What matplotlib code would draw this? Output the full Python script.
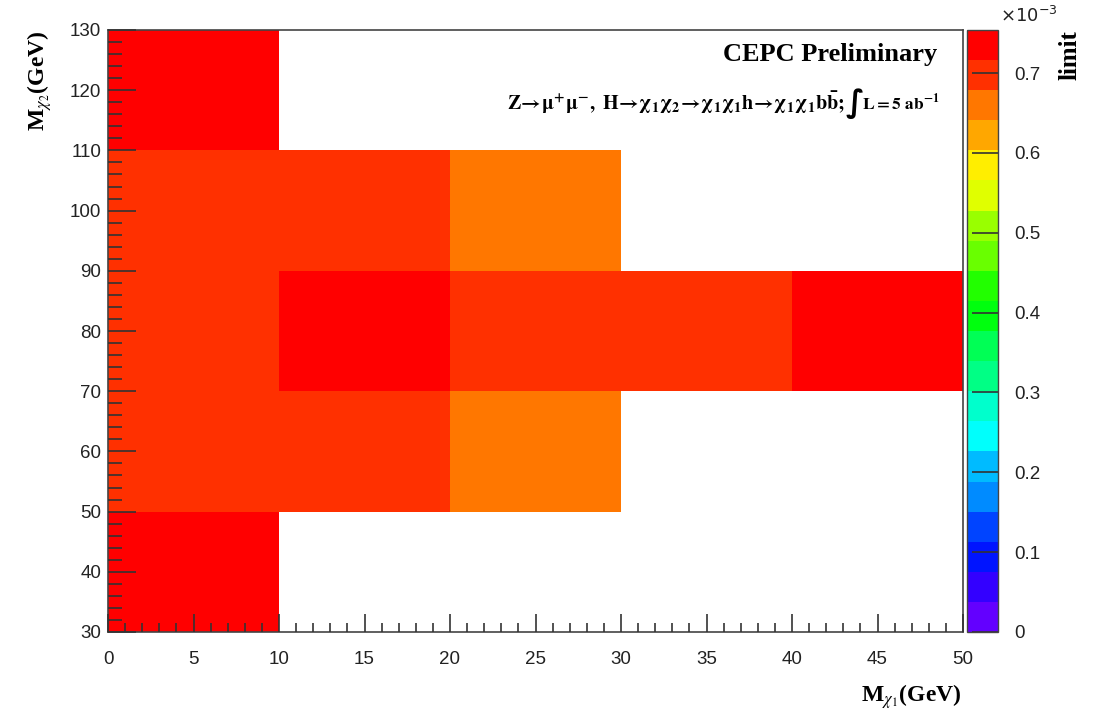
import colorsys
import numpy as np
import matplotlib
matplotlib.use("Agg")
import matplotlib.pyplot as plt
from matplotlib.colors import ListedColormap, BoundaryNorm
from matplotlib.ticker import MultipleLocator, FixedLocator, FuncFormatter

plt.rcParams['font.family'] = ['Liberation Sans', 'DejaVu Sans']
plt.rcParams['mathtext.fontset'] = 'stix'

# bin edges (GeV)
mchi1_edges = [0, 10, 20, 30, 40, 50]
mchi2_edges = [30, 40, 50, 60, 70, 80, 90, 100, 110, 120, 130]

# limit per bin, one list per M_chi1 bin, from M_chi2 = 30 upwards (nan = no point)
nan = np.nan
limit_m1_0_10 = [0.735e-3, 0.735e-3, 0.70e-3, 0.70e-3, 0.70e-3, 0.70e-3, 0.70e-3, 0.70e-3, 0.735e-3, 0.735e-3]
limit_m1_10_20 = [nan, nan, 0.70e-3, 0.70e-3, 0.735e-3, 0.735e-3, 0.70e-3, 0.70e-3, nan, nan]
limit_m1_20_30 = [nan, nan, 0.66e-3, 0.66e-3, 0.70e-3, 0.70e-3, 0.66e-3, 0.66e-3, nan, nan]
limit_m1_30_40 = [nan, nan, nan, nan, 0.70e-3, 0.70e-3, nan, nan, nan, nan]
limit_m1_40_50 = [nan, nan, nan, nan, 0.735e-3, 0.735e-3, nan, nan, nan, nan]

zmin, zmax = 0.0, 0.754e-3
ncont = 20

# ROOT "pretty" palette: 50 HLS colours, hue 280 -> 0, picked per contour band
pretty = []
for i in range(50):
    hue = 280 - (i + 1) * (280.0 / 50)
    pretty.append(colorsys.hls_to_rgb(hue / 360.0, 0.5, 1.0))
band_colors = [pretty[int((j + 0.99) * 50 / ncont)] for j in range(ncont)]
cmap = ListedColormap(band_colors)
cmap.set_bad('white')
levels = np.linspace(zmin, zmax, ncont + 1)
norm = BoundaryNorm(levels, ncont)

z = np.array([limit_m1_0_10, limit_m1_10_20, limit_m1_20_30,
              limit_m1_30_40, limit_m1_40_50]).T
z = np.ma.masked_invalid(z)

W, H = 1112, 723
fig = plt.figure(figsize=(W / 100, H / 100), dpi=100)
ax = fig.add_axes([108 / W, 1 - 632 / H, (963 - 108) / W, (632 - 30) / H])
cax = fig.add_axes([967 / W, 1 - 632 / H, (998 - 967) / W, (632 - 30) / H])

mesh = ax.pcolormesh(mchi1_edges, mchi2_edges, z, cmap=cmap, norm=norm)
ax.set_xlim(0, 50)
ax.set_ylim(30, 130)

ax.xaxis.set_major_locator(MultipleLocator(5))
ax.xaxis.set_minor_locator(MultipleLocator(1))
ax.yaxis.set_major_locator(MultipleLocator(10))
ax.yaxis.set_minor_locator(MultipleLocator(2))
ax.tick_params(axis='x', which='major', direction='in', length=13, width=1.2,
               color='#333333', pad=14, labelsize=13.5, labelcolor='#222222')
ax.tick_params(axis='x', which='minor', direction='in', length=6.5, width=1.2, color='#333333')
ax.tick_params(axis='y', which='major', direction='in', length=20, width=1.2,
               color='#333333', pad=5, labelsize=13.5, labelcolor='#222222')
ax.tick_params(axis='y', which='minor', direction='in', length=10, width=1.2, color='#333333')
for s in ax.spines.values():
    s.set_color('#444444')
    s.set_linewidth(1.2)
ax.set_axisbelow(False)

# colour bar
cb = fig.colorbar(mesh, cax=cax, boundaries=levels, spacing='proportional')
cb.outline.set_edgecolor('#444444')
cb.outline.set_linewidth(1.0)
cax.yaxis.set_major_locator(FixedLocator([0, 0.1e-3, 0.2e-3, 0.3e-3, 0.4e-3, 0.5e-3, 0.6e-3, 0.7e-3]))
cax.yaxis.set_major_formatter(FuncFormatter(lambda v, p: '0' if v == 0 else '%.1f' % (v * 1e3)))
cax.yaxis.set_minor_locator(FixedLocator([]))
cax.tick_params(axis='y', which='major', direction='in', length=19, width=1.2,
                color='#333333', pad=12, labelsize=13.5, labelcolor='#222222')
fig.text(1000 / W, 1 - 16 / H, r'$\times10^{-3}$', fontsize=13, color='#222222',
         ha='left', va='center', math_fontfamily='dejavusans')

serif = 'Liberation Serif'
fig.text(40 / W, 1 - 30 / H, r'M$_{\chi_{2}}$(GeV)', rotation=90, ha='center', va='top',
         fontsize=17, fontweight='bold', family=serif)
fig.text(962 / W, 1 - 697 / H, r'M$_{\chi_{1}}$(GeV)', ha='right', va='center',
         fontsize=17, fontweight='bold', family=serif)
fig.text(1070 / W, 1 - 30 / H, 'limit', rotation=90, ha='center', va='top',
         fontsize=18, fontweight='bold', family=serif)

fig.text(937 / W, 1 - 55 / H, 'CEPC Preliminary', ha='right',
         va='center', fontsize=19, fontweight='bold', family=serif)
fig.text(845 / W, 1 - 103 / H,
         r'$\mathbf{Z\!\rightarrow\!\mu^{+}\mu^{-},\ H\!\rightarrow\!\chi_{1}\chi_{2}\!\rightarrow\!\chi_{1}\chi_{1}h\!\rightarrow\!\chi_{1}\chi_{1}b\bar{b};}$',
         ha='right', va='center', fontsize=14.5)
fig.text(855 / W, 1 - 104 / H, '\u222b', ha='center', va='center', fontsize=22,
         family=['DejaVu Sans'], fontweight='bold')
fig.text(940 / W, 1 - 103 / H, r'$\mathbf{L = 5\ ab^{-1}}$',
         ha='right', va='center', fontsize=12.5)

fig.savefig('out.png', dpi=100)
